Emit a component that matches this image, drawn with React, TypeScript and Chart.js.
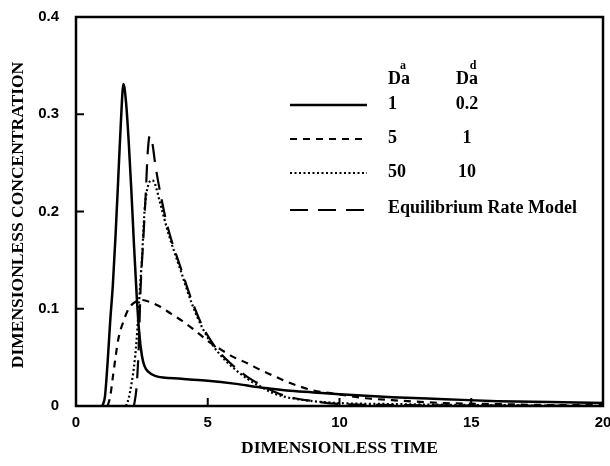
import { useEffect, useRef } from "react";
import { Chart, registerables } from "chart.js";

Chart.register(...registerables);

// Da^a = 1, Da^d = 0.2 (solid)
const solidX = [1.0, 1.1, 1.2, 1.3, 1.4, 1.5, 1.6, 1.7, 1.8, 1.9, 2.0, 2.1, 2.2, 2.3, 2.4, 2.5, 2.6, 2.75, 3.0, 4.0, 5.0, 6.0, 7.0, 8.0, 9.0, 10, 12, 14, 16, 18, 20];
const solidY = [0, 0.01, 0.045, 0.088, 0.125, 0.175, 0.232, 0.29, 0.331, 0.312, 0.272, 0.222, 0.166, 0.115, 0.075, 0.052, 0.041, 0.035, 0.031, 0.028, 0.026, 0.023, 0.019, 0.016, 0.014, 0.012, 0.009, 0.007, 0.005, 0.004, 0.003];

// Da^a = 5, Da^d = 1 (short dash)
const dashX = [1.2, 1.3, 1.4, 1.5, 1.6, 1.8, 2.0, 2.2, 2.5, 2.8, 3.2, 3.6, 4.0, 4.5, 5.0, 5.5, 6.0, 6.5, 7.0, 7.5, 8.0, 8.5, 9.0, 10, 11, 12, 14, 16, 18, 20];
const dashY = [0, 0.01, 0.03, 0.05, 0.068, 0.087, 0.1, 0.106, 0.109, 0.107, 0.102, 0.095, 0.088, 0.078, 0.067, 0.058, 0.05, 0.044, 0.037, 0.031, 0.025, 0.02, 0.016, 0.012, 0.008, 0.006, 0.003, 0.002, 0.001, 0.001];

// Da^a = 50, Da^d = 10 (dotted)
const dotX = [1.9, 2.0, 2.1, 2.2, 2.3, 2.4, 2.5, 2.6, 2.75, 2.9, 3.0, 3.2, 3.5, 4.0, 4.4, 4.8, 5.2, 5.7, 6.5, 7.0, 7.5, 8.0, 9.0, 10, 12, 15, 20];
const dotY = [0, 0.008, 0.022, 0.04, 0.068, 0.11, 0.15, 0.2, 0.228, 0.232, 0.228, 0.208, 0.178, 0.137, 0.105, 0.08, 0.062, 0.046, 0.028, 0.02, 0.013, 0.009, 0.005, 0.003, 0.002, 0.001, 0];

// Equilibrium Rate Model (long dash)
const eqX = [2.2, 2.3, 2.38, 2.45, 2.55, 2.65, 2.72, 2.8, 2.9, 3.0, 3.25, 3.5, 4.0, 4.4, 4.8, 5.2, 5.7, 6.5, 7.0, 7.5, 8.0, 9.0, 10, 12, 20];
const eqY = [0, 0.02, 0.06, 0.12, 0.17, 0.22, 0.26, 0.278, 0.27, 0.25, 0.212, 0.182, 0.14, 0.108, 0.082, 0.064, 0.048, 0.03, 0.022, 0.015, 0.01, 0.005, 0.002, 0.001, 0];

const xTicks = [0, 5, 10, 15, 20];
const yTicks = [0, 0.1, 0.2, 0.3, 0.4];

const legendDaA = ["1", "5", "50"];
const legendDaD = ["0.2", "1", "10"];
const legendEq = "Equilibrium Rate Model";
const xTitle = "DIMENSIONLESS TIME";
const yTitle = "DIMENSIONLESS CONCENTRATION";

const dashes: number[][] = [[], [7, 6], [2, 2.5], [18, 10]];

const pts = (xs: number[], ys: number[]) => xs.map((x, i) => ({ x, y: ys[i] }));

const SERIF = "'Liberation Serif', 'Times New Roman', serif";
const SANS = "'Liberation Sans', Arial, sans-serif";

const decor = {
  id: "decor",
  afterDraw(chart: any) {
    const { ctx, chartArea: ca, scales } = chart;
    const xs = scales.x;
    const ys = scales.y;
    ctx.save();
    ctx.strokeStyle = "#000";
    ctx.fillStyle = "#000";
    // box
    ctx.lineWidth = 2.5;
    ctx.setLineDash([]);
    ctx.strokeRect(ca.left, ca.top, ca.right - ca.left, ca.bottom - ca.top);
    // inward ticks
    ctx.lineWidth = 2;
    ctx.beginPath();
    xTicks.slice(1, -1).forEach((v) => {
      const p = xs.getPixelForValue(v);
      ctx.moveTo(p, ca.bottom);
      ctx.lineTo(p, ca.bottom - 8);
    });
    yTicks.slice(1, -1).forEach((v) => {
      const p = ys.getPixelForValue(v);
      ctx.moveTo(ca.left, p);
      ctx.lineTo(ca.left + 8, p);
    });
    ctx.stroke();
    // titles
    ctx.font = `bold 17.5px ${SERIF}`;
    ctx.textAlign = "center";
    ctx.textBaseline = "middle";
    ctx.fillText(xTitle, (ca.left + ca.right) / 2, 448);
    ctx.save();
    ctx.translate(18, 215);
    ctx.rotate(-Math.PI / 2);
    ctx.fillText(yTitle, 0, 0);
    ctx.restore();
    // legend
    const lx0 = 290, lx1 = 367, tx = 388, tx2 = 467;
    const rowY = [105, 139, 173, 210];
    ctx.font = `bold 18px ${SERIF}`;
    ctx.textAlign = "left";
    ctx.textBaseline = "alphabetic";
    ctx.fillText("Da", tx, 84);
    ctx.textAlign = "center";
    ctx.fillText("Da", tx2, 84);
    ctx.font = `bold 12px ${SERIF}`;
    ctx.fillText("a", 403, 69);
    ctx.fillText("d", tx2 + 6, 69);
    rowY.forEach((y, i) => {
      ctx.lineWidth = i === 0 ? 2.5 : 2.2;
      ctx.setLineDash(dashes[i]);
      ctx.beginPath();
      ctx.moveTo(lx0, y);
      ctx.lineTo(lx1, y);
      ctx.stroke();
    });
    ctx.setLineDash([]);
    ctx.font = `bold 18px ${SERIF}`;
    ctx.textBaseline = "middle";
    for (let i = 0; i < 3; i++) {
      ctx.textAlign = "left";
      ctx.fillText(legendDaA[i], tx, rowY[i] - 1);
      ctx.textAlign = "center";
      ctx.fillText(legendDaD[i], tx2, rowY[i] - 1);
    }
    ctx.textAlign = "left";
    ctx.fillText(legendEq, tx, rowY[3] - 2);
    ctx.restore();
  },
};

export default function App() {
  const ref = useRef<HTMLCanvasElement | null>(null);
  useEffect(() => {
    if (!ref.current) return;
    const series = [
      pts(solidX, solidY),
      pts(dashX, dashY),
      pts(dotX, dotY),
      pts(eqX, eqY),
    ];
    const chart = new Chart(ref.current, {
      type: "scatter",
      data: {
        datasets: series.map((d, i) => ({
          data: d,
          showLine: true,
          borderColor: "#000",
          backgroundColor: "#000",
          borderWidth: i === 0 ? 2.5 : 2.2,
          borderDash: dashes[i],
          pointRadius: 0,
          cubicInterpolationMode: "monotone",
          fill: false,
        })),
      },
      options: {
        animation: false,
        responsive: false,
        maintainAspectRatio: false,
        layout: { padding: { top: 17, right: 7, left: 0, bottom: 0 } },
        plugins: { legend: { display: false }, tooltip: { enabled: false } },
        scales: {
          x: {
            type: "linear",
            min: 0,
            max: 20,
            afterBuildTicks: (s: any) => {
              s.ticks = xTicks.map((v) => ({ value: v }));
            },
            afterFit: (s: any) => {
              s.height = 60;
              s.paddingLeft = 0;
              s.paddingRight = 0;
            },
            grid: { display: false },
            border: { display: false },
            ticks: {
              color: "#000",
              padding: 0,
              maxRotation: 0,
              font: { family: SANS, size: 15, weight: "bold" },
              callback: (v: any) => String(v),
            },
          },
          y: {
            type: "linear",
            min: 0,
            max: 0.4,
            afterBuildTicks: (s: any) => {
              s.ticks = yTicks.map((v) => ({ value: v }));
            },
            afterFit: (s: any) => {
              s.width = 76;
              s.paddingTop = 0;
              s.paddingBottom = 0;
            },
            grid: { display: false },
            border: { display: false },
            ticks: {
              color: "#000",
              padding: 9,
              font: { family: SANS, size: 15, weight: "bold" },
              callback: (v: any) => (v === 0 ? "0" : Number(v).toFixed(1)),
            },
          },
        },
      },
      plugins: [decor],
    } as any);
    return () => chart.destroy();
  }, []);
  return (
    <div style={{ position: "fixed", left: 0, top: 0, width: 610, height: 466, background: "#fff" }}>
      <canvas ref={ref} width={610} height={466} style={{ width: 610, height: 466, display: "block" }} />
    </div>
  );
}
